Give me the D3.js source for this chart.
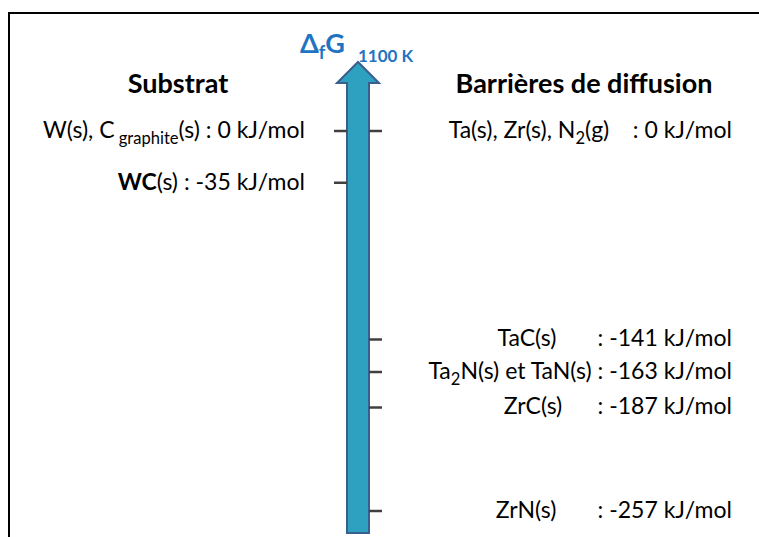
<!DOCTYPE html>
<html>
<head>
<meta charset="utf-8">
<script src="https://cdn.jsdelivr.net/npm/d3@7"></script>
<style>
  body { margin: 0; background: #fff; }
  svg { display: block; font-family: Lato, "Open Sans", sans-serif; }
  text { white-space: pre; }
</style>
</head>
<body>
<svg id="chart" width="759" height="537"></svg>
<script>
// markup: _{x} = subscript, **x** = bold
var leftNames  = ["W(s), C_{ graphite}(s) ", "**WC**(s) "];
var leftValues = [0, -35];

var rightNames  = ["Ta(s), Zr(s), N_{2}(g)    ", "TaC(s)       ", "Ta_{2}N(s) et TaN(s) ", "ZrC(s)      ", "ZrN(s)       "];
var rightValues = [0, -141, -163, -187, -257];

var headers = ["Substrat", "Barrières de diffusion"];
var unit = "kJ/mol";

var svg = d3.select("svg#chart"),
    width = +svg.attr("width"),
    height = +svg.attr("height");

var blue = "#1f74c2";

var y = d3.scaleLinear()
    .domain([0, d3.min(rightValues)])
    .range([131, 511]);

var axisX = 358;

// frame
svg.append("rect")
    .attr("x", 9).attr("y", 13)
    .attr("width", width + 20).attr("height", height + 20)
    .attr("fill", "none").attr("stroke", "#000").attr("stroke-width", 2);

// arrow
var yTop = 62, yHead = 83, yBot = y(d3.min(rightValues)) + 22;
var arrow = [
  [axisX - 11, yBot], [axisX - 11, yHead], [axisX - 21, yHead], [axisX, yTop],
  [axisX + 21, yHead], [axisX + 11, yHead], [axisX + 11, yBot]
];
svg.append("path")
    .attr("d", d3.line()(arrow) + "Z")
    .attr("fill", "#2ea0c0")
    .attr("stroke", "#3a5f8e")
    .attr("stroke-width", 2);

// ticks
var left = leftValues.map(function(v, i) { return {name: leftNames[i], value: v}; });
var right = rightValues.map(function(v, i) { return {name: rightNames[i], value: v}; });

svg.append("g").selectAll("line").data(left).enter().append("line")
    .attr("x1", axisX - 24).attr("x2", axisX - 11)
    .attr("y1", function(d) { return y(d.value); })
    .attr("y2", function(d) { return y(d.value); })
    .attr("stroke", "#404040").attr("stroke-width", 2.5);

svg.append("g").selectAll("line").data(right).enter().append("line")
    .attr("x1", axisX + 11).attr("x2", axisX + 24)
    .attr("y1", function(d) { return y(d.value); })
    .attr("y2", function(d) { return y(d.value); })
    .attr("stroke", "#404040").attr("stroke-width", 2.5);

function richText(sel, str) {
  var shift = 0;
  str.split(/(_\{[^}]*\}|\*\*[^*]*\*\*)/).forEach(function(p) {
    if (!p) return;
    var t;
    if (p.indexOf("_{") === 0) {
      t = sel.append("tspan").attr("font-size", "0.72em").attr("dy", 6 - shift).text(p.slice(2, -1));
      shift = 6;
      return;
    }
    if (p.indexOf("**") === 0) {
      t = sel.append("tspan").attr("font-weight", "bold").text(p.slice(2, -2));
    } else {
      t = sel.append("tspan").text(p);
    }
    if (shift) { t.attr("dy", -shift); shift = 0; }
  });
}

function label(d) { return ": " + d.value + " " + unit; }

svg.append("g").selectAll("text").data(left).enter().append("text")
    .attr("x", 305)
    .attr("y", function(d) { return y(d.value) + 7; })
    .attr("text-anchor", "end")
    .attr("font-size", 23)
    .each(function(d) { richText(d3.select(this), d.name + label(d)); });

svg.append("g").selectAll("text").data(right).enter().append("text")
    .attr("x", 732)
    .attr("y", function(d) { return y(d.value) + 7; })
    .attr("text-anchor", "end")
    .attr("font-size", 23)
    .each(function(d) { richText(d3.select(this), d.name + label(d)); });

// headers
svg.selectAll(".header").data(headers).enter().append("text")
    .attr("class", "header")
    .attr("x", function(d, i) { return i === 0 ? 178 : 584; })
    .attr("y", 93)
    .attr("text-anchor", "middle")
    .attr("font-size", 27)
    .attr("font-weight", "bold")
    .text(function(d) { return d; });

// title
var title = svg.append("text")
    .attr("x", 300).attr("y", 53)
    .attr("fill", blue).attr("font-weight", "bold").attr("font-size", 27);
title.append("tspan").text("Δ");
title.append("tspan").attr("font-size", 18).attr("dy", 6).text("f");
title.append("tspan").attr("dy", -6).text("G");
svg.append("text")
    .attr("x", 358).attr("y", 62)
    .attr("fill", blue).attr("font-weight", "bold").attr("font-size", 17)
    .text("1100 K");
</script>
</body>
</html>
